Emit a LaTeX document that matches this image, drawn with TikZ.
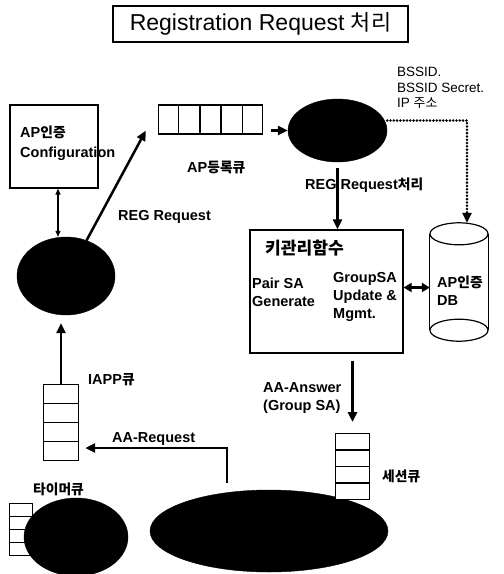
\documentclass[tikz,border=0pt]{standalone}
\usepackage{fontspec}
\setmainfont{Liberation Sans}
\newfontfamily\kr{Noto Sans CJK KR}[Scale=0.95]
\usetikzlibrary{arrows.meta,shapes.geometric,shapes.multipart}

\begin{document}
\begin{tikzpicture}[
    x=1pt, y=-1pt,
    box/.style={rectangle, draw=black, line width=1.2pt, inner sep=0pt},
    blob/.style={ellipse, fill=black, draw=black, inner sep=0pt},
    queue/.style={rectangle split, draw=black, fill=white, line width=1.2pt,
        inner sep=0pt, rectangle split empty part depth=0pt},
    txt/.style={anchor=west, align=left, inner sep=0pt,
        font=\bfseries\fontsize{14.5}{18}\selectfont},
    arrow/.style={-{Triangle[length=10pt, width=9pt]}, line width=2.5pt},
    dblarrow/.style={{Triangle[length=8pt, width=9pt]}-{Triangle[length=8pt, width=9pt]}, line width=2.5pt},
    thinarrow/.style={{Triangle[length=6pt, width=5pt]}-{Triangle[length=6pt, width=5pt]}, line width=1.2pt},
    dotline/.style={line width=2.8pt, dash pattern=on 0pt off 3.3pt, line cap=round}
]
\useasboundingbox (0,0) rectangle (504,574);

\node[box, minimum width=295pt, minimum height=36pt, line width=1.3pt,
    font=\fontsize{23}{26}\selectfont] (title) at (260.5,24) {Registration Request {\kr 처리}};

% left column
\node[box, minimum width=88pt, minimum height=83pt] (config) at (54,146.5) {};
\node[txt, font=\bfseries\fontsize{14.5}{20}\selectfont] (configtxt) at (20,143) {AP{\kr 인증}\\Configuration};
\node[blob, minimum width=98pt, minimum height=78pt] (blobL) at (66,276) {};
\node[txt] (regtxt) at (118,217) {REG Request};
\node[queue, rectangle split parts=4, rectangle split empty part width=30pt,
    rectangle split empty part height=17.75pt] (iappq) at (61,422.5) {};
\node[txt] (iapptxt) at (88,380) {IAPP{\kr 큐}};

% top row
\node[queue, rectangle split horizontal, rectangle split parts=5,
    rectangle split empty part width=14.6pt, rectangle split empty part height=29pt] (regq) at (210.5,119.5) {};
\node[txt] (regqtxt) at (187,167) {AP{\kr 등록큐}};
\node[blob, minimum width=99pt, minimum height=63pt] (blobT) at (337.5,130.5) {};
\node[txt, font=\fontsize{13.5}{15.5}\selectfont] (bssid) at (397,88) {BSSID.\\BSSID Secret.\\IP {\kr 주소}};
\node[txt] (regproc) at (305,185) {REG Request{\kr 처리}};

% key management
\node[box, minimum width=153pt, minimum height=123pt] (keyf) at (326.5,291.5) {};
\node[txt, font=\bfseries\kr\fontsize{18}{20}\selectfont] (keyftxt) at (265,248) {키관리함수};
\node[txt] (pairsa) at (252,292) {Pair SA\\Generate};
\node[txt] (groupsa) at (333,297) {GroupSA\\Update \&\\Mgmt.};

% DB
\node[minimum width=58pt, minimum height=118pt, inner sep=0pt] (db) at (459,282) {};
\draw[line width=1.2pt] ([yshift=-11pt]db.north) ellipse [x radius=29pt, y radius=11pt];
\draw[line width=1.2pt] ([yshift=11pt]db.south) ellipse [x radius=29pt, y radius=11pt];
\draw[line width=1.2pt] ([yshift=-11pt]db.north west) -- ([yshift=11pt]db.south west);
\draw[line width=1.2pt] ([yshift=-11pt]db.north east) -- ([yshift=11pt]db.south east);
\node[txt] (dbtxt) at (437,291) {AP{\kr 인증}\\DB};

% bottom row
\node[queue, rectangle split parts=4, rectangle split empty part width=18pt,
    rectangle split empty part height=11.75pt] (timerq) at (21,529.5) {};
\node[txt] (timertxt) at (33,489) {{\kr 타이머큐}};
\node[blob, minimum width=104pt, minimum height=78pt] (blobS) at (76,537) {};
\node[blob, minimum width=238pt, minimum height=82pt] (blobB) at (269,531) {};
\node[queue, rectangle split parts=4, rectangle split empty part width=29pt,
    rectangle split empty part height=15.25pt] (sesq) at (352.5,466.5) {};
\node[txt] (sestxt) at (382,476) {{\kr 세션큐}};
\node[txt] (aaans) at (263,398) {AA-Answer\\(Group SA)};
\node[txt] (aareq) at (112,439) {AA-Request};

\draw[thinarrow] ([xshift=4pt]config.south) -- ([xshift=4pt]config.south |- blobL.north);
\draw[arrow] (blobL.60) -- ([xshift=-12pt,yshift=4pt]regq.south west);
\draw[arrow, shorten <=8pt] (regq.east |- blobT.west) -- (blobT.west);
\draw[dotline, -{Triangle[length=10pt, width=9pt]}] ([yshift=10pt]blobT.east) -| ([xshift=8pt]db.north);
\draw[arrow, shorten <=6pt] (blobT.south) -- (blobT.south |- keyf.north);
\draw[dblarrow] ([yshift=4pt]keyf.east) -- ([yshift=4pt]keyf.east -| db.west);
\draw[arrow, shorten <=7pt, shorten >=11pt] (keyf.south -| sesq.north) -- (sesq.north);
\draw[arrow, shorten >=8pt] (iappq.north) -- (iappq.north |- blobL.south);
\draw[arrow, shorten <=7pt, shorten >=6pt] ([xshift=-42pt]blobB.north) |- ([yshift=-25.5pt]iappq.east);
\end{tikzpicture}
\end{document}
